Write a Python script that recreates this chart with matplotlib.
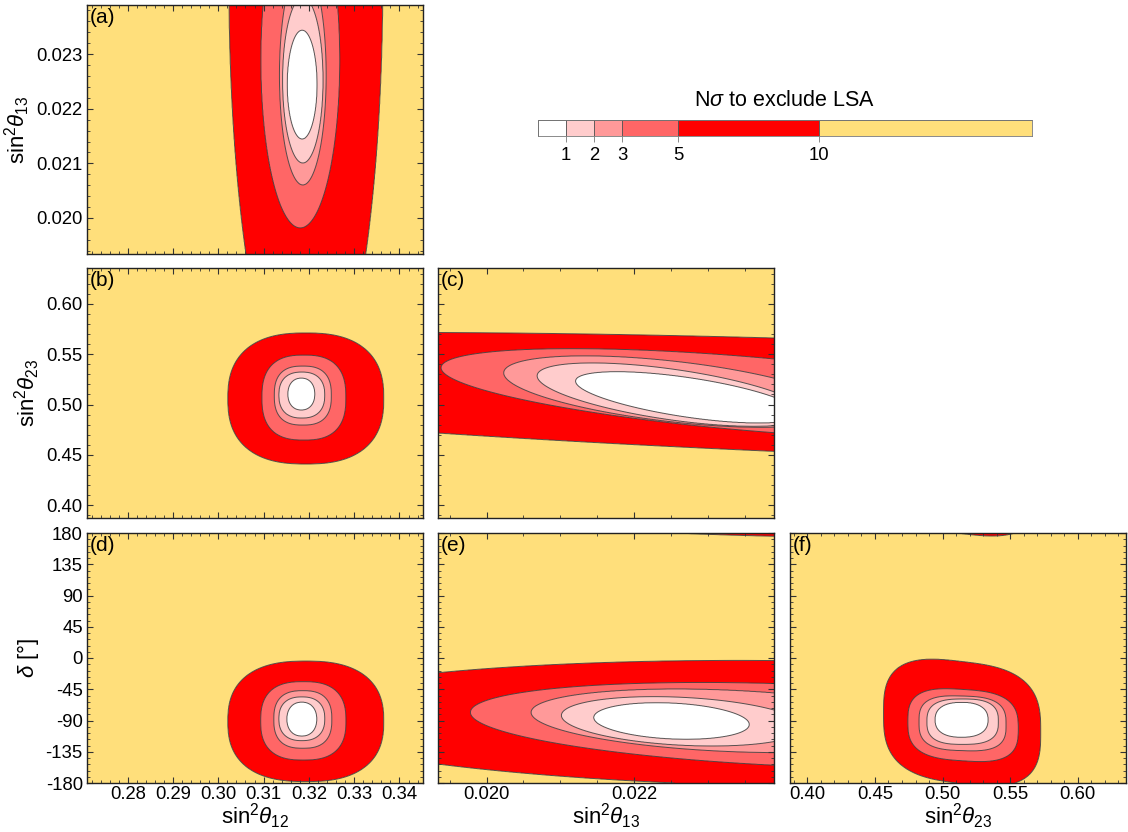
import numpy as np
import matplotlib
matplotlib.use("Agg")
import matplotlib.pyplot as plt
from matplotlib.ticker import MultipleLocator, FixedLocator, FormatStrFormatter, NullFormatter

plt.rcParams['font.family'] = ['Liberation Sans', 'DejaVu Sans']
plt.rcParams['mathtext.fontset'] = 'custom'
plt.rcParams['mathtext.rm'] = 'Liberation Sans'
plt.rcParams['mathtext.it'] = 'Liberation Sans:italic'
plt.rcParams['axes.unicode_minus'] = True

# ---------------- data ----------------
NSIG_LEVELS = [1, 2, 3, 5, 10]
FILL_COLORS = ['#FFFFFF', '#FFCCCC', '#FF9999', '#FF6666', '#FF0000', '#FFDF7B']
CBAR_BOUNDS = [0, 1, 2, 3, 5, 10, 17.6]
CBAR_TICKS = [1, 2, 3, 5, 10]

X12_LIM = (0.2710, 0.3452)
X13_LIM = (0.01934, 0.02390)
X23_LIM = (0.3871, 0.6358)
DEL_LIM = (-180, 180)

X12_TICKS = [0.28, 0.29, 0.30, 0.31, 0.32, 0.33, 0.34]
X13_TICKS_Y = [0.020, 0.021, 0.022, 0.023]
X13_TICKS_X = [0.020, 0.022]
X23_TICKS = [0.40, 0.45, 0.50, 0.55, 0.60]
DEL_TICKS = [-180, -135, -90, -45, 0, 45, 90, 135, 180]

# contour shapes (centre, half extents, tilt, superellipse power) for levels 1,2,3,5,10
A_CX = [0.31851, 0.31866, 0.31866, 0.31810, 0.31933]
A_AX = [0.00331, 0.00448, 0.00515, 0.00873, 0.01701]
A_CY = [0.022442, 0.022524, 0.022616, 0.02289, 0.024354]
A_AY = [0.000997, 0.001518, 0.002012, 0.003073, 0.00799]
A_R = [0, 0, 0, 0, 0]
A_P = [2, 2, 2, 2, 2]

B_CX = [0.31833, 0.31844, 0.31866, 0.3189, 0.31932]
B_AX = [0.00298, 0.00508, 0.0063, 0.00928, 0.01723]
B_CY = [0.5104, 0.5094, 0.5089, 0.5069, 0.5060]
B_AY = [0.0159, 0.0229, 0.02935, 0.0423, 0.0652]
B_R = [0, 0, 0, 0, 0]
B_P = [2.2, 2.4, 2.6, 2.6, 2.5]

C_CX = [0.022729, 0.022523, 0.022531, 0.023607, 0.025926]
C_AX = [0.001523, 0.001838, 0.0023, 0.004226, 0.01372]
C_CY = [0.50711, 0.50980, 0.51289, 0.5105, 0.50453]
C_AY = [0.0256, 0.03157, 0.03556, 0.04512, 0.06723]
C_R = [-0.63, -0.593, -0.521, -0.578, -0.529]
C_P = [2, 2, 2, 2, 2]

D_CX = [0.31844, 0.31844, 0.31866, 0.31877, 0.31932]
D_AX = [0.00331, 0.00508, 0.00641, 0.00943, 0.01723]
D_CY = [-88, -87.5, -88.5, -90.5, -91.2]
D_AY = [24.5, 31.5, 41.5, 56.5, 86.8]
D_R = [0, 0, 0, 0, 0]
D_P = [2.2, 2.4, 2.6, 2.6, 2.5]

E_CX = [0.022509, 0.02266, 0.023278, 0.024307, 0.024307]
E_AX = [0.001056, 0.001646, 0.002675, 0.004528, 0.007217]
E_CY = [-90.7, -91.2, -90.4, -97.3, -94.8]
E_AY = [26.4, 35.6, 45.9, 62.1, 91.4]
E_R = [-0.19, -0.24, -0.263, -0.306, -0.124]
E_P = [2, 2, 2, 2, 2]

F_CX = [0.5141, 0.5149, 0.5148, 0.5152, 0.5145]
F_AX = [0.01966, 0.02647, 0.03225, 0.0409, 0.0582]
F_CY = [-89, -91.7, -94.1, -96.7, -93]
F_AY = [25.2, 32.7, 39.4, 51.7, 89]
F_R = [0, 0, -0.05, -0.1, -0.15]
F_P = [2.4, 2.8, 3, 3, 3]


def nsigma_field(X, Y, cx, cy, ax_, ay_, rr, pw, periodic=False):
    Rs = []
    for k in range(len(NSIG_LEVELS)):
        u = (X - cx[k]) / ax_[k]
        dy = Y - cy[k]
        if periodic:
            dy = (dy + 180.0) % 360.0 - 180.0
        v = dy / ay_[k]
        w = (v - rr[k] * u) / np.sqrt(1 - rr[k] ** 2)
        Rs.append((np.abs(u) ** pw[k] + np.abs(w) ** pw[k]) ** (1.0 / pw[k]))
    R = np.minimum.accumulate(np.stack(Rs), axis=0)
    Rext = np.concatenate([2 * R[:1], R, 0.5 * R[-1:]], axis=0)
    Lext = np.array([0] + NSIG_LEVELS + [20], dtype=float)
    j = np.sum(Rext > 1, axis=0)
    jj = np.clip(j, 1, len(Lext) - 1)
    Ra = np.take_along_axis(Rext, (jj - 1)[None], axis=0)[0]
    Rb = np.take_along_axis(Rext, jj[None], axis=0)[0]
    La = Lext[jj - 1]
    Lb = Lext[jj]
    frac = np.clip((Ra - 1) / np.maximum(Ra - Rb, 1e-12), 0, 1)
    F = La + (Lb - La) * frac
    F = np.where(j == 0, 0.0, F)
    F = np.where(j == len(Lext), 20.0, F)
    return F


W, H = 1128, 832
fig = plt.figure(figsize=(W / 100, H / 100), dpi=100)


def add_ax(l, t, r, b):
    return fig.add_axes([l / W, 1 - b / H, (r - l) / W, (b - t) / H])


COLS = [(87, 423), (438, 774), (790, 1126)]
ROWS = [(5, 254), (268, 518), (533, 783)]

TICK_FS = 13.3
LAB_FS = 16


def style_axes(ax):
    for s in ax.spines.values():
        s.set_linewidth(1.0)
        s.set_color('#222222')
    ax.tick_params(which='both', direction='in', top=True, right=True,
                   labelsize=TICK_FS, color='#333333', pad=3)
    ax.tick_params(axis='x', which='both', pad=2)
    ax.tick_params(which='major', length=4.5, width=0.8)
    ax.tick_params(which='minor', length=2.2, width=0.6)


def set_axis(axis, kind, labels):
    if kind == '12':
        axis.set_major_locator(FixedLocator(X12_TICKS))
        axis.set_minor_locator(MultipleLocator(0.002))
        axis.set_major_formatter(FormatStrFormatter('%.2f'))
    elif kind == '13y':
        axis.set_major_locator(FixedLocator(X13_TICKS_Y))
        axis.set_minor_locator(MultipleLocator(0.0002))
        axis.set_major_formatter(FormatStrFormatter('%.3f'))
    elif kind == '13x':
        axis.set_major_locator(FixedLocator(X13_TICKS_X))
        axis.set_minor_locator(MultipleLocator(0.0005))
        axis.set_major_formatter(FormatStrFormatter('%.3f'))
    elif kind == '23':
        axis.set_major_locator(FixedLocator(X23_TICKS))
        axis.set_minor_locator(MultipleLocator(0.01))
        axis.set_major_formatter(FormatStrFormatter('%.2f'))
    elif kind == 'd':
        axis.set_major_locator(FixedLocator(DEL_TICKS))
        axis.set_minor_locator(MultipleLocator(9))
        axis.set_major_formatter(FormatStrFormatter('%d'))
    if not labels:
        axis.set_major_formatter(NullFormatter())


LIMS = {'12': X12_LIM, '13y': X13_LIM, '13x': X13_LIM, '23': X23_LIM, 'd': DEL_LIM}

panels = [
    ('(a)', 0, 0, '12', '13y', (A_CX, A_CY, A_AX, A_AY, A_R, A_P), False, True),
    ('(b)', 1, 0, '12', '23', (B_CX, B_CY, B_AX, B_AY, B_R, B_P), False, True),
    ('(c)', 1, 1, '13x', '23', (C_CX, C_CY, C_AX, C_AY, C_R, C_P), False, False),
    ('(d)', 2, 0, '12', 'd', (D_CX, D_CY, D_AX, D_AY, D_R, D_P), True, True),
    ('(e)', 2, 1, '13x', 'd', (E_CX, E_CY, E_AX, E_AY, E_R, E_P), True, False),
    ('(f)', 2, 2, '23', 'd', (F_CX, F_CY, F_AX, F_AY, F_R, F_P), True, False),
]

fill_levels = [0] + NSIG_LEVELS + [25]

for lab, ri, ci, kx, ky, pars, xlab, ylab in panels:
    l, r = COLS[ci]
    t, b = ROWS[ri]
    ax = add_ax(l, t, r, b)
    xl = LIMS[kx]
    yl = LIMS[ky]
    xs = np.linspace(xl[0], xl[1], 700)
    ys = np.linspace(yl[0], yl[1], 700)
    X, Y = np.meshgrid(xs, ys)
    cx, cy, axx, ayy, rr, pw = pars
    Z = nsigma_field(X, Y, cx, cy, axx, ayy, rr, pw, periodic=(ky == 'd'))
    ax.contourf(X, Y, Z, levels=fill_levels, colors=FILL_COLORS, antialiased=True)
    ax.contour(X, Y, Z, levels=NSIG_LEVELS, colors='#3a3a3a', linewidths=0.7, alpha=0.85)
    ax.set_xlim(xl)
    ax.set_ylim(yl)
    style_axes(ax)
    set_axis(ax.xaxis, kx, ri == 2)
    set_axis(ax.yaxis, ky, ci == 0)
    ax.text(0.008, 0.988, lab, transform=ax.transAxes, ha='left', va='top', fontsize=15)
    if ri == 2:
        xlabel = {'12': r'sin$^2\theta_{12}$', '13x': r'sin$^2\theta_{13}$', '23': r'sin$^2\theta_{23}$'}[kx]
        ax.set_xlabel(xlabel, fontsize=LAB_FS, labelpad=-1)
    if ci == 0:
        ylabel = {'13y': r'sin$^2\theta_{13}$', '23': r'sin$^2\theta_{23}$', 'd': r'$\delta$ [°]'}[ky]
        ax.set_ylabel(ylabel, fontsize=LAB_FS, labelpad=3)

# ---------------- colour bar ----------------
cax = add_ax(538, 120, 1032, 136)
lefts = CBAR_BOUNDS[:-1]
widths = np.diff(CBAR_BOUNDS)
cax.barh([0] * len(lefts), widths, left=lefts, height=1.0, color=FILL_COLORS,
         edgecolor='#555555', linewidth=0.6, align='center')
cax.set_xlim(CBAR_BOUNDS[0], CBAR_BOUNDS[-1])
cax.set_ylim(-0.5, 0.5)
cax.set_yticks([])
cax.set_xticks(CBAR_TICKS)
cax.set_xticklabels([str(v) for v in CBAR_TICKS])
cax.tick_params(axis='x', direction='out', length=4, width=0.6, color='#777777',
                labelsize=TICK_FS, pad=4)
for s in cax.spines.values():
    s.set_linewidth(0.6)
    s.set_color('#777777')
cax.set_title(r'N$\sigma$ to exclude LSA', fontsize=15.5, pad=10)

fig.savefig('out.png', dpi=100)
